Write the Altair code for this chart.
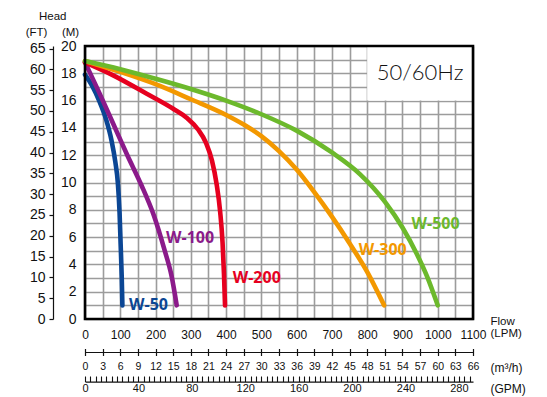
import altair as alt
import pandas as pd

# ---------------- data ----------------
models = ["W-50", "W-100", "W-200", "W-300", "W-500"]
colors = ["#0b4694", "#8b1a8a", "#e6001f", "#f39800", "#6cb92c"]

w50_flow = [0, 20, 40, 60, 75, 86, 93, 98, 101, 104, 106]
w50_head = [17.9, 17.1, 16.0, 14.6, 13.1, 11.5, 10.0, 7.8, 5.5, 3.2, 1.0]

w100_flow = [0, 40, 80, 120, 160, 195, 225, 245, 260]
w100_head = [18.8, 16.6, 14.3, 12.0, 9.8, 7.6, 5.1, 3.2, 1.0]

w200_flow = [0, 80, 175, 250, 290, 320, 343, 360, 373, 383, 390, 394, 397]
w200_head = [18.8, 17.85, 16.5, 15.4, 14.7, 13.9, 12.9, 11.6, 9.9, 7.9, 5.6, 3.3, 1.0]

w300_flow = [0, 100, 200, 300, 400, 450, 500, 550, 600, 650, 700, 750, 800, 848]
w300_head = [18.9, 18.1, 17.2, 16.1, 14.95, 14.25, 13.4, 12.3, 10.95, 9.3, 7.5, 5.55, 3.45, 1.0]

w500_flow = [0, 100, 200, 300, 400, 500, 600, 700, 780, 850, 900, 940, 970, 1000]
w500_head = [18.9, 18.3, 17.6, 16.85, 16.0, 15.0, 13.8, 12.2, 10.6, 8.6, 6.7, 4.8, 3.1, 1.0]

label_flow = [180, 298, 487, 844, 994]
label_head = [1.0, 5.9, 3.0, 5.05, 6.95]

flow_lpm_ticks = list(range(0, 1101, 50))
head_m_ticks = list(range(0, 21))
head_ft_ticks = list(range(0, 66, 5))
m3h_ticks = list(range(0, 67, 3))
gpm_ticks = list(range(0, 289, 4))

LPM_MAX = 1100
M_MAX = 20
FT_MAX = M_MAX * 3.28084
M3H_MAX = 66
GPM_MAX = LPM_MAX / 3.78541

hz_box = {"x1": [800], "x2": [1100], "y1": [16], "y2": [20]}
hz_text = {"x": [950], "y": [18], "t": ["50/60Hz"]}

# ---------------- tables ----------------
rows = []
for m, fl, hd in zip(models,
                     [w50_flow, w100_flow, w200_flow, w300_flow, w500_flow],
                     [w50_head, w100_head, w200_head, w300_head, w500_head]):
    for i, (f, h) in enumerate(zip(fl, hd)):
        rows.append({"model": m, "flow": f, "head": h, "order": i})
curves = pd.DataFrame(rows)
labels = pd.DataFrame({"model": models, "flow": label_flow, "head": label_head})

AXFONT = "Liberation Sans"
INK = "#111"
GRID = "#9c9c9c"
color_scale = alt.Scale(domain=models, range=colors)
xs = alt.Scale(domain=[0, LPM_MAX], nice=False, zero=False)
ys = alt.Scale(domain=[0, M_MAX], nice=False, zero=False)

x_axis = alt.Axis(
    orient="bottom", values=flow_lpm_ticks, grid=True, gridColor=GRID, gridWidth=1.6,
    domain=False, ticks=False, format="d",
    labelExpr="datum.value % 100 == 0 ? datum.label : ''",
    labelFont=AXFONT, labelFontSize=12, labelColor=INK, labelPadding=10,
    labelFlush=False, labelOverlap=False,
    title=["Flow", "(LPM)"], titleFont=AXFONT, titleFontSize=11.5, titleFontWeight="normal",
    titleColor=INK, titleAngle=0, titleAlign="left", titleBaseline="top",
    titleX=405, titleY=-4, titleLineHeight=12,
)
y_axis = alt.Axis(
    orient="left", values=head_m_ticks, grid=True, gridColor=GRID, gridWidth=1.6,
    domain=False, ticks=False, format="d",
    labelExpr="datum.value % 2 == 0 ? datum.label : ''",
    labelFont=AXFONT, labelFontSize=14, labelColor=INK, labelPadding=9,
    labelFlush=False, labelOverlap=False,
    title="(M)", titleFont=AXFONT, titleFontSize=11.5, titleFontWeight="normal",
    titleColor=INK, titleAngle=0, titleAlign="center", titleBaseline="middle",
    titleX=-15, titleY=-14,
)

box = alt.Chart(pd.DataFrame(hz_box)).mark_rect(fill="white").encode(
    x=alt.X("x1:Q", scale=xs, axis=x_axis), x2="x2:Q",
    y=alt.Y("y1:Q", scale=ys, axis=y_axis), y2="y2:Q",
)
hz = alt.Chart(pd.DataFrame(hz_text)).mark_text(
    font="Lato", fontWeight=300, fontSize=22, color=INK
).encode(x=alt.X("x:Q", scale=xs, axis=x_axis), y=alt.Y("y:Q", scale=ys, axis=y_axis), text="t:N")

lines = alt.Chart(curves).mark_line(
    strokeWidth=4.6, interpolate="monotone", strokeCap="round", strokeJoin="round"
).encode(
    x=alt.X("flow:Q", scale=xs, axis=x_axis), y=alt.Y("head:Q", scale=ys, axis=y_axis),
    color=alt.Color("model:N", scale=color_scale, legend=None),
    order="order:Q",
)
txt = alt.Chart(labels).mark_text(
    font="Open Sans", fontWeight="bold", fontSize=16
).encode(
    x=alt.X("flow:Q", scale=xs, axis=x_axis), y=alt.Y("head:Q", scale=ys, axis=y_axis),
    text="model:N",
    color=alt.Color("model:N", scale=color_scale, legend=None),
)
border = alt.Chart(pd.DataFrame({"x1": [0], "x2": [LPM_MAX], "y1": [0], "y2": [M_MAX]})).mark_rect(
    fill=None, stroke="black", strokeWidth=2.6
).encode(x=alt.X("x1:Q", scale=xs, axis=x_axis), x2="x2:Q",
         y=alt.Y("y1:Q", scale=ys, axis=y_axis), y2="y2:Q")

main = alt.layer(box, lines, txt, hz, border)

# FT axis
ft_layer = alt.Chart(pd.DataFrame({"ft": head_ft_ticks})).mark_point(opacity=0).encode(
    y=alt.Y("ft:Q", scale=alt.Scale(domain=[0, FT_MAX], nice=False, zero=False),
            axis=alt.Axis(orient="left", offset=32, values=head_ft_ticks, grid=False,
                          domain=True, domainColor=INK, domainWidth=1.2, format="d",
                          ticks=True, tickColor=INK, tickSize=4, tickWidth=1.2,
                          labelFont=AXFONT, labelFontSize=14, labelColor=INK, labelPadding=4,
                          labelFlush=False, labelOverlap=False,
                          title="(FT)", titleFont=AXFONT, titleFontSize=11.5,
                          titleFontWeight="normal", titleColor=INK, titleAngle=0,
                          titleAlign="center", titleBaseline="middle", titleX=-17, titleY=-14))
)

# m3/h axis: ticks + labels
m3h_layer = alt.Chart(pd.DataFrame({"q": m3h_ticks})).mark_point(opacity=0).encode(
    x=alt.X("q:Q", scale=alt.Scale(domain=[0, M3H_MAX], nice=False, zero=False),
            axis=alt.Axis(orient="bottom", offset=29.5, values=m3h_ticks, grid=False,
                          domain=False, ticks=True, tickColor=INK, tickSize=7, tickWidth=1.2,
                          format="d",
                          labelFont=AXFONT, labelFontSize=10.5, labelColor=INK, labelPadding=6,
                          labelFlush=False, labelOverlap=False,
                          title="(m³/h)", titleFont=AXFONT, titleFontSize=12,
                          titleFontWeight="normal", titleColor=INK, titleAngle=0,
                          titleAlign="left", titleBaseline="middle", titleX=405, titleY=19))
)
m3h_line = alt.Chart(pd.DataFrame({"q": m3h_ticks})).mark_point(opacity=0).encode(
    x=alt.X("q:Q", scale=alt.Scale(domain=[0, M3H_MAX], nice=False, zero=False),
            axis=alt.Axis(orient="bottom", offset=33, grid=False, domain=True,
                          domainColor=INK, domainWidth=1.2, ticks=False, labels=False,
                          title=None))
)

# GPM axis
gpm_layer = alt.Chart(pd.DataFrame({"g": gpm_ticks})).mark_point(opacity=0).encode(
    x=alt.X("g:Q", scale=alt.Scale(domain=[0, GPM_MAX], nice=False, zero=False),
            axis=alt.Axis(orient="bottom", offset=57, values=gpm_ticks, grid=False,
                          domain=False, ticks=True, tickColor=INK, tickSize=5.5, tickWidth=1.1,
                          format="d",
                          labelExpr="datum.value % 40 == 0 ? datum.label : ''",
                          labelFont=AXFONT, labelFontSize=11, labelColor=INK, labelPadding=1,
                          labelFlush=False, labelOverlap=False,
                          title="(GPM)", titleFont=AXFONT, titleFontSize=12,
                          titleFontWeight="normal", titleColor=INK, titleAngle=0,
                          titleAlign="left", titleBaseline="middle", titleX=405, titleY=12))
)
gpm_line = alt.Chart(pd.DataFrame({"g": gpm_ticks})).mark_point(opacity=0).encode(
    x=alt.X("g:Q", scale=alt.Scale(domain=[0, GPM_MAX], nice=False, zero=False),
            axis=alt.Axis(orient="bottom", offset=62.7, grid=False, domain=True,
                          domainColor=INK, domainWidth=1.2, ticks=False, labels=False,
                          title=None))
)

chart = alt.layer(main, ft_layer, m3h_layer, m3h_line, gpm_layer, gpm_line).resolve_scale(
    x="independent", y="independent"
).properties(
    width=388, height=273,
    title=alt.TitleParams("Head", anchor="start", frame="group", dx=-46, dy=0,
                          font=AXFONT, fontSize=11.5, fontWeight="normal", color=INK),
    autosize=alt.AutoSizeParams(type="none"),
    padding={"left": 77, "top": 38, "right": 66, "bottom": 78},
).configure_view(stroke=None).configure(background="white")

chart.save("out.html", embed_options={"renderer": "svg", "actions": False})
